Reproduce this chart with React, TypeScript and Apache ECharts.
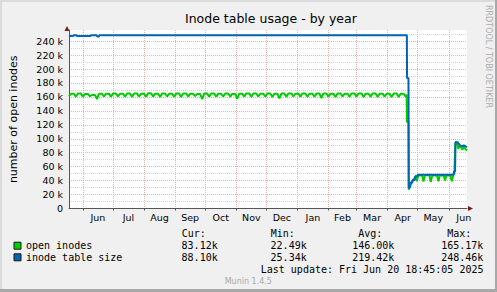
import React, { useEffect, useRef } from "react";
import * as echarts from "echarts";

const DAY = 86400000;
const BASE = Date.UTC(2024, 5, 1); // day 0 = Jun 1 2024
const X_MIN_DAY = -13.9;
const X_MAX_DAY = 383.2;

const monthLabels = ["Jun", "Jul", "Aug", "Sep", "Oct", "Nov", "Dec", "Jan", "Feb", "Mar", "Apr", "May", "Jun"];
const yGridValues = [0, 10000, 20000, 30000, 40000, 50000, 60000, 70000, 80000, 90000, 100000, 110000, 120000, 130000, 140000, 150000, 160000, 170000, 180000, 190000, 200000, 210000, 220000, 230000, 240000, 250000];
const yLabelValues = [0, 20000, 40000, 60000, 80000, 100000, 120000, 140000, 160000, 180000, 200000, 220000, 240000];

// open inodes: weekly dip / plateau values (thousands), weeks starting day 7*k, k from -2
const greenFirstWeek = -2;
const greenWeekDip = [160.8, 160.2, 160.5, 161.0, 157.0, 160.6, 160.3, 160.8, 160.4, 160.1, 160.7, 160.2, 160.5, 159.9, 160.6, 160.3, 160.0, 160.8, 161.2, 157.0, 160.4, 160.2, 160.6, 160.4, 157.4, 160.5, 160.1, 160.7, 160.3, 160.0, 158.0, 160.4, 160.6, 160.2, 160.5, 160.3, 158.2, 160.4, 160.1, 160.6, 160.2, 160.5, 159.9, 160.4, 160.1, 160.6, 160.0, 159.8];
const greenWeekPeak = [164.6, 164.8, 164.2, 162.8, 164.5, 164.7, 164.9, 164.6, 165.0, 164.8, 164.5, 165.17, 164.7, 164.9, 164.6, 164.8, 165.0, 164.4, 164.2, 164.8, 165.0, 164.6, 164.9, 164.3, 164.7, 165.1, 164.8, 164.6, 164.9, 164.5, 164.8, 165.0, 164.7, 164.9, 164.6, 164.8, 165.0, 164.7, 164.9, 164.5, 164.8, 165.0, 164.6, 164.9, 164.7, 164.4, 164.8, 164.5];
const greenTailDays = [322, 323, 323.3, 324.8, 325.1, 326.5, 327.5, 329, 331, 332.5, 333.2, 334.5, 338.5, 339.8, 341.2, 345.6, 347.1, 348.5, 353.2, 354.7, 356.1, 359.9, 361.3, 362.7, 366.6, 368, 369.4, 370.6, 371.6, 373.2, 374.6, 376, 377.4, 378.6, 380, 381.6, 383.2];
const greenTailVals = [160.2, 163.5, 124, 124, 27, 33, 37, 40, 44, 47.5, 39, 47.8, 47.5, 38.8, 47.6, 47.7, 38.2, 47.5, 47.6, 39.2, 47.5, 47.7, 40.2, 47.6, 47.4, 39.1, 47.2, 51, 93.2, 93.8, 85.5, 90.5, 87.5, 84, 89, 85.2, 83.12];

// inode table size
const blueDays = [-14, -9.8, -9.3, -6.5, -6, 7.5, 8, 13.8, 14.2, 16, 16.4, 323.2, 323.4, 324.8, 325.1, 326.5, 327, 328.6, 329, 331, 331.5, 333.5, 334, 369.6, 370.3, 371.3, 371.7, 374, 376.5, 378.5, 380, 383.2];
const blueVals = [247.4, 247.4, 248.3, 248.3, 247.4, 247.4, 248.46, 248.46, 246.8, 246.8, 248.46, 248.46, 187, 187, 29, 31, 37, 37, 41, 41, 45.5, 45.5, 48.5, 48.5, 53, 53, 95.3, 95, 90, 89.5, 90.5, 88.1];

const seriesNames = ["open inodes", "inode table size"];
const seriesColors = ["#00cc00", "#0066b3"];
const statHeaders = ["Cur:", "Min:", "Avg:", "Max:"];
const statOpenInodes = ["83.12k", "22.49k", "146.00k", "165.17k"];
const statTableSize = ["88.10k", "25.34k", "219.42k", "248.46k"];
const lastUpdate = "Last update: Fri Jun 20 18:45:05 2025";

const t = (d: number) => BASE + d * DAY;
const monthStarts = monthLabels.map((_, i) => Date.UTC(2024, 5 + i, 1));
const monthMids = monthLabels.map((_, i) => (Date.UTC(2024, 5 + i, 1) + Date.UTC(2024, 6 + i, 1)) / 2);

function buildGreen() {
  const out: number[][] = [];
  greenWeekDip.forEach((dip, i) => {
    const d0 = (greenFirstWeek + i) * 7;
    out.push([t(d0), dip * 1000]);
    out.push([t(d0 + 2), greenWeekPeak[i] * 1000]);
    out.push([t(d0 + 5), greenWeekPeak[i] * 1000]);
  });
  greenTailDays.forEach((d, i) => out.push([t(d), greenTailVals[i] * 1000]));
  return out;
}
function buildBlue() {
  return blueDays.map((d, i) => [t(d), blueVals[i] * 1000]);
}

const MONO = '"DejaVu Sans Mono", monospace';
const SANS = '"DejaVu Sans", sans-serif';

function txt(text: string, x: number, y: number, align: string, font: string, fill = "#000") {
  return {
    type: "text",
    x,
    y,
    silent: true,
    style: { text, fill, font, align, verticalAlign: "middle", textAlign: align, textVerticalAlign: "middle" },
  };
}

export default function App() {
  const ref = useRef<HTMLDivElement>(null);
  useEffect(() => {
    if (!ref.current) return;
    const chart = echarts.init(ref.current, undefined, { renderer: "svg" });
    const headerX = [181.7, 270.7, 358.3, 447.3];
    const graphic: any[] = [
      { type: "rect", silent: true, shape: { x: 0, y: 0, width: 497, height: 2 }, style: { fill: "#dadada" } },
      { type: "rect", silent: true, shape: { x: 0, y: 0, width: 2, height: 292 }, style: { fill: "#dadada" } },
      { type: "rect", silent: true, shape: { x: 0, y: 289, width: 497, height: 3 }, style: { fill: "#a8a8a8" } },
      { type: "rect", silent: true, shape: { x: 495, y: 0, width: 2, height: 292 }, style: { fill: "#a8a8a8" } },
      { type: "polygon", silent: true, shape: { points: [[64.5, 31], [69.5, 31], [67, 26]] }, style: { fill: "#7a1a1a" } },
      { type: "polygon", silent: true, shape: { points: [[468, 206], [468, 211], [473, 208.5]] }, style: { fill: "#7a1a1a" } },
      {
        type: "text", x: 488.3, y: 56.5, rotation: -Math.PI / 2, silent: true,
        style: { text: "RRDTOOL / TOBI OETIKER", fill: "#ababab", font: "8px " + SANS, align: "center", verticalAlign: "middle", textAlign: "center", textVerticalAlign: "middle" },
      },
      txt("Munin 1.4.5", 248.3, 281, "center", "8px " + SANS, "#a8a8a8"),
      txt(lastUpdate, 483.5, 269.3, "right", "10px " + MONO),
    ];
    statHeaders.forEach((h, i) => graphic.push(txt(h, headerX[i], 233.3, "left", "10px " + MONO)));
    statOpenInodes.forEach((v, i) => graphic.push(txt(v, headerX[i] + 36, 245.7, "right", "10px " + MONO)));
    statTableSize.forEach((v, i) => graphic.push(txt(v, headerX[i] + 36, 257.3, "right", "10px " + MONO)));

    chart.setOption({
      animation: false,
      backgroundColor: "#f0f0f0",
      textStyle: { fontFamily: SANS },
      title: {
        text: "Inode table usage - by year",
        left: 180,
        top: 7,
        textStyle: { fontFamily: SANS, fontSize: 12.5, fontWeight: "normal", color: "#000" },
      },
      grid: { left: 67, right: 30, top: 30, bottom: 83.5, show: true, backgroundColor: "#ffffff", borderWidth: 0 },
      legend: {
        orient: "vertical",
        left: 13.5,
        top: 240.7,
        padding: 0,
        itemWidth: 7,
        itemHeight: 7,
        itemGap: 1.6,
        icon: "rect",
        selectedMode: false,
        data: seriesNames,
        itemStyle: { borderColor: "#1a1a1a", borderWidth: 1 },
        textStyle: { fontFamily: MONO, fontSize: 10, color: "#000" },
      },
      xAxis: {
        type: "value",
        min: t(X_MIN_DAY),
        max: t(X_MAX_DAY),
        axisLine: { show: true, lineStyle: { color: "#555", width: 1 } },
        axisTick: { show: true, customValues: monthStarts, length: 2, lineStyle: { color: "#555" } },
        axisLabel: {
          customValues: monthMids,
          margin: 4,
          color: "#000",
          fontFamily: SANS,
          fontSize: 9.5,
          formatter: (v: number) => {
            const i = monthMids.indexOf(v);
            return i >= 0 ? monthLabels[i] : "";
          },
        },
        splitLine: { show: true, lineStyle: { color: "#f0b0b0", width: 1, type: "dotted" } },
      },
      yAxis: {
        type: "value",
        min: 0,
        max: 256000,
        name: "number of open inodes",
        nameLocation: "middle",
        nameGap: 50,
        nameTextStyle: { fontFamily: SANS, fontSize: 11, color: "#000" },
        axisLine: { show: true, lineStyle: { color: "#555", width: 1 } },
        axisTick: { show: false, customValues: yGridValues },
        axisLabel: {
          customValues: yLabelValues,
          margin: 6,
          color: "#000",
          fontFamily: SANS,
          fontSize: 9.5,
          formatter: (v: number) => (v === 0 ? "0" : v / 1000 + " k"),
        },
        splitLine: { show: true, lineStyle: { color: ["#f0b0b0", "#d6d6d6"], width: 1, type: "dotted" } },
      },
      series: [
        {
          name: seriesNames[0],
          type: "line",
          data: buildGreen(),
          symbol: "none",
          showSymbol: false,
          color: seriesColors[0],
          lineStyle: { color: seriesColors[0], width: 2 },
          z: 2,
        },
        {
          name: seriesNames[1],
          type: "line",
          data: buildBlue(),
          symbol: "none",
          showSymbol: false,
          color: seriesColors[1],
          lineStyle: { color: seriesColors[1], width: 2 },
          z: 3,
        },
      ],
      graphic,
    });
    return () => chart.dispose();
  }, []);
  return <div ref={ref} style={{ position: "fixed", left: 0, top: 0, width: 497, height: 292 }} />;
}
